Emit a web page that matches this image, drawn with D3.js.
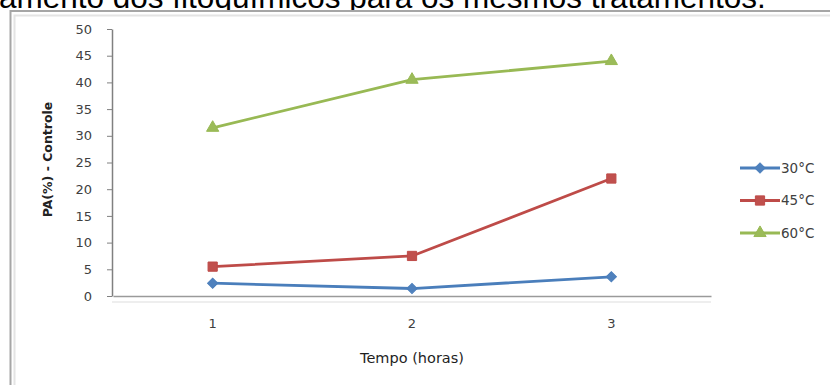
<!DOCTYPE html>
<html>
<head>
<meta charset="utf-8">
<script src="https://cdn.jsdelivr.net/npm/d3@7/dist/d3.min.js"></script>
<style>
  html, body { margin: 0; padding: 0; background: #fff; overflow: hidden; }
  svg { display: block; }
</style>
</head>
<body>
<svg id="chart" width="830" height="385"></svg>
<script>
// Time points (hours) and the PA(%) - Controle values per temperature
const categories = ["1", "2", "3"];
const series30 = [2.4, 1.4, 3.6];
const series45 = [5.5, 7.5, 22.0];
const series60 = [31.5, 40.5, 44.0];
const seriesNames = ["30°C", "45°C", "60°C"];
const yTicks = [0, 5, 10, 15, 20, 25, 30, 35, 40, 45, 50];

const series = [
  { name: seriesNames[0], values: series30, line: "#4A7EBB", fill: "#4F81BD", shape: "diamond" },
  { name: seriesNames[1], values: series45, line: "#BE4B48", fill: "#C0504D", shape: "square" },
  { name: seriesNames[2], values: series60, line: "#98B954", fill: "#9BBB59", shape: "triangle" }
];

const svg = d3.select("#chart");

// Caption line of the surrounding document, partly hidden behind the chart box
svg.append("text")
  .attr("x", -1).attr("y", 8)
  .attr("font-family", "Liberation Sans, Arial, sans-serif")
  .attr("font-size", 31.5)
  .attr("fill", "#000")
  .text("amento dos fitoquímicos para os mesmos tratamentos.");

// Chart box
svg.append("rect")
  .attr("x", 10.5).attr("y", 11)
  .attr("width", 840).attr("height", 400)
  .attr("fill", "#fff")
  .attr("stroke", "#a6a6a6").attr("stroke-width", 2);
svg.append("path")
  .attr("d", "M14.5,400V15.5H840")
  .attr("fill", "none")
  .attr("stroke", "#e4e4e4").attr("stroke-width", 2);

const plot = { left: 112, right: 711, top: 29, bottom: 296 };

const x = d3.scaleBand().domain(categories).range([plot.left + 1, plot.right]);
const y = d3.scaleLinear().domain([0, 50]).range([plot.bottom, plot.top]);
const cx = c => x(c) + x.bandwidth() / 2;

const font = "DejaVu Sans, Verdana, sans-serif";

// Y axis
const yAxis = svg.append("g")
  .attr("transform", `translate(${plot.left},0)`)
  .call(d3.axisLeft(y).tickValues(yTicks).tickSize(5).tickPadding(15).tickSizeOuter(0));
yAxis.select(".domain").attr("stroke", "#808080").attr("stroke-width", 1.5);
yAxis.selectAll(".tick line").attr("stroke", "#808080");
yAxis.selectAll(".tick text")
  .attr("font-family", font).attr("font-size", 13).attr("fill", "#404040");

// X axis
const xAxis = svg.append("g")
  .attr("transform", `translate(0,${plot.bottom})`)
  .call(d3.axisBottom(x).tickSize(0).tickPadding(23).tickSizeOuter(0));
xAxis.select(".domain").attr("stroke", "#9a9a9a").attr("stroke-width", 1.5);
xAxis.selectAll(".tick text")
  .attr("font-family", font).attr("font-size", 13).attr("fill", "#404040");
svg.append("line")
  .attr("x1", plot.left).attr("x2", plot.right)
  .attr("y1", plot.bottom + 6).attr("y2", plot.bottom + 6)
  .attr("stroke", "#e8e8e8").attr("stroke-width", 1.5);

// Axis titles
svg.append("text")
  .attr("transform", `translate(52,${(plot.top + plot.bottom) / 2 - 3}) rotate(-90)`)
  .attr("text-anchor", "middle")
  .attr("font-family", font).attr("font-size", 12.5).attr("font-weight", "bold")
  .attr("fill", "#222")
  .text("PA(%) - Controle");

svg.append("text")
  .attr("x", 412).attr("y", 363)
  .attr("text-anchor", "middle")
  .attr("font-family", font).attr("font-size", 14.5)
  .attr("fill", "#1e1e1e")
  .text("Tempo (horas)");

// Marker shapes (diamond = square turned by 45 degrees)
const symbolFor = {
  diamond: { path: d3.symbol().type(d3.symbolSquare).size(52), rotate: 45 },
  square: { path: d3.symbol().type(d3.symbolSquare).size(85), rotate: 0 },
  triangle: { path: d3.symbol().type(d3.symbolTriangle).size(65), rotate: 0 }
};

const line = d3.line().x((d, i) => cx(categories[i])).y(d => y(d));

series.forEach(s => {
  const sym = symbolFor[s.shape];
  svg.append("path")
    .datum(s.values)
    .attr("d", line)
    .attr("fill", "none")
    .attr("stroke", s.line)
    .attr("stroke-width", 2.8)
    .attr("stroke-linejoin", "round");
  svg.selectAll(null)
    .data(s.values)
    .enter().append("path")
    .attr("d", sym.path)
    .attr("transform", (d, i) => `translate(${cx(categories[i])},${y(d)}) rotate(${sym.rotate})`)
    .attr("fill", s.fill)
    .attr("stroke", s.line)
    .attr("stroke-width", 1);
});

// Legend
const legendY = d3.scalePoint().domain(seriesNames).range([168, 233]);
const legend = svg.append("g");
series.forEach(s => {
  const ly = legendY(s.name);
  const sym = symbolFor[s.shape];
  legend.append("line")
    .attr("x1", 740).attr("x2", 780).attr("y1", ly).attr("y2", ly)
    .attr("stroke", s.line).attr("stroke-width", 2.8);
  legend.append("path")
    .attr("d", sym.path)
    .attr("transform", `translate(760,${ly}) rotate(${sym.rotate})`)
    .attr("fill", s.fill).attr("stroke", s.line).attr("stroke-width", 1);
  legend.append("text")
    .attr("x", 781).attr("y", ly).attr("dy", "0.35em")
    .attr("font-family", font).attr("font-size", 13.5).attr("fill", "#404040")
    .text(s.name);
});
</script>
</body>
</html>
